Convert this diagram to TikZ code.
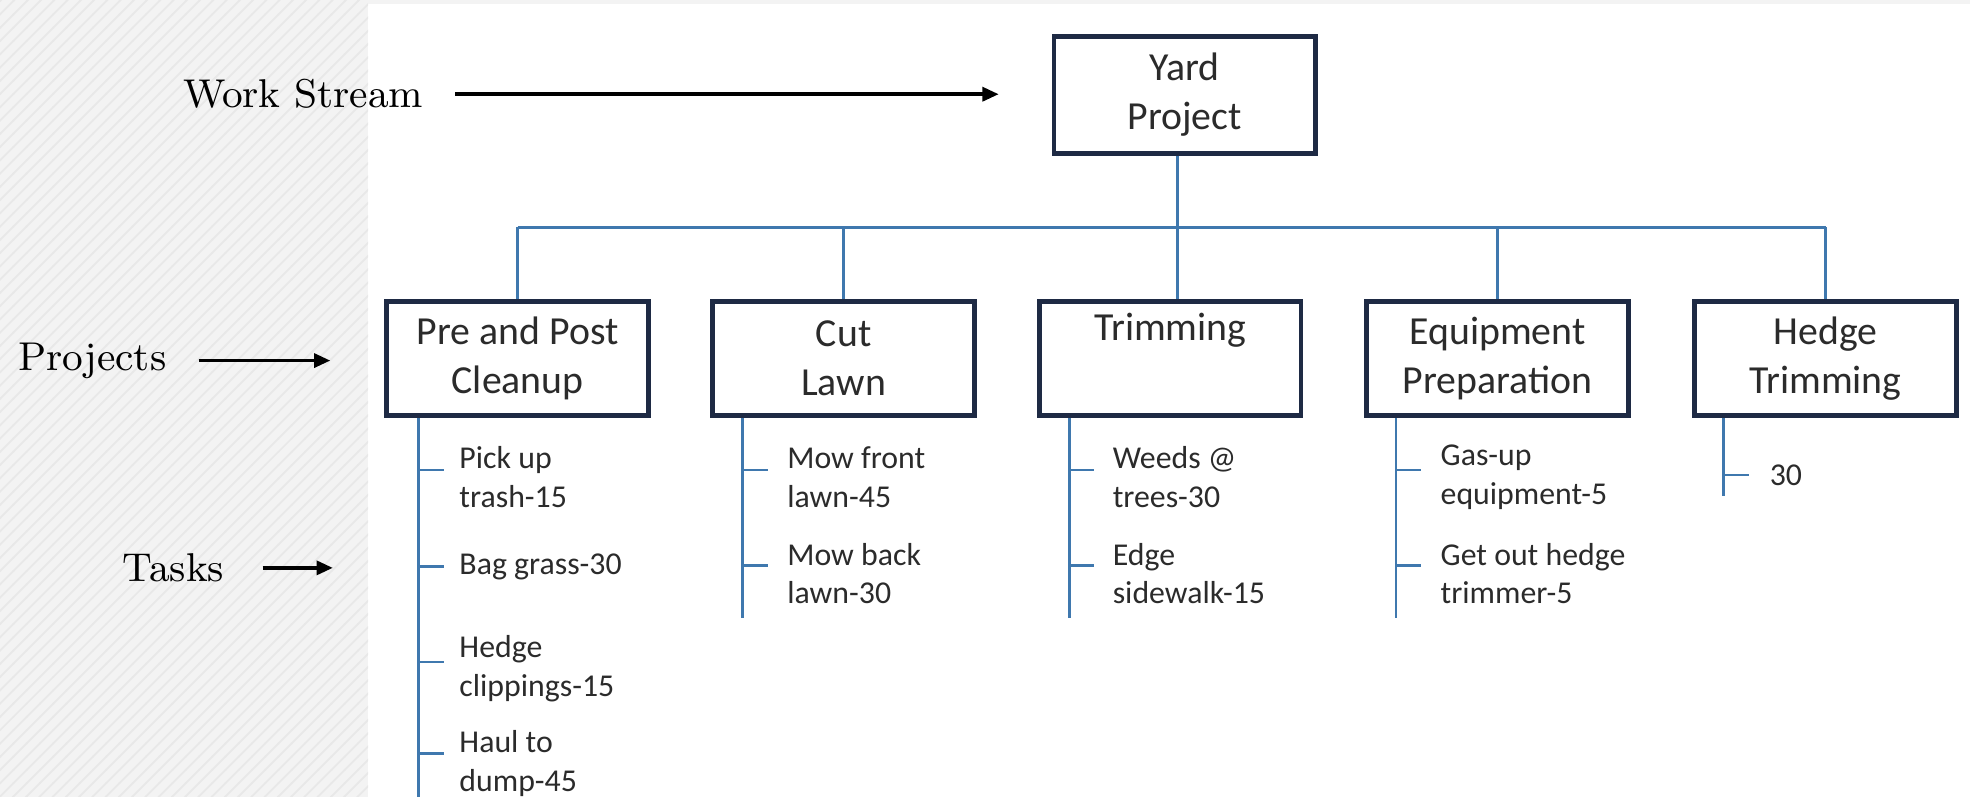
\documentclass[tikz,border=0pt]{standalone}
\usepackage{fontspec}
\newfontfamily\boxfont{Carlito}
\usetikzlibrary{arrows.meta,patterns}
\definecolor{navy}{HTML}{1E2A44}
\definecolor{conn}{HTML}{3F78AE}
\definecolor{txt}{HTML}{2B2B2B}
\definecolor{bgtex}{HTML}{F3F3F3}
\definecolor{hatch}{HTML}{E8E8E8}
\begin{document}
\begin{tikzpicture}[x=0.01cm,y=-0.01cm,
  wbs/.style={draw=navy,line width=1.1pt,fill=white,minimum width=2.08cm,minimum height=0.91cm,
    align=center,text=txt,font=\boxfont\fontsize{9}{11.1}\selectfont,inner sep=0pt},
  task/.style={align=left,text=txt,font=\boxfont\fontsize{7.2}{8.8}\selectfont,inner sep=0pt,anchor=west},
  lbl/.style={font=\fontsize{9.1}{11}\selectfont,inner sep=0pt,text=black},
  link/.style={draw=conn,line width=0.6pt},
  pointer/.style={draw=black,line width=0.85pt,-{Triangle[length=0.13cm,width=0.11cm]}}
]
\useasboundingbox (0,0) rectangle (1568,634);
\fill[bgtex] (0,0) rectangle (293,634);
\fill[pattern=north east lines,pattern color=hatch] (0,0) rectangle (293,634);
\fill[bgtex] (293,0) rectangle (1568,3.5);

% top node
\node[wbs,minimum height=0.93cm] (yard) at (943,75.5) {Yard\\Project};

% projects
\node[wbs] (p1) at (412,285.5) {Pre and Post\\Cleanup};
\node[wbs] (p2) at (671.5,285.5) {Cut\\Lawn};
\node[wbs] (p3) at (931.5,285.5) {Trimming\\\strut};
\node[wbs] (p4) at (1192,285.5) {Equipment\\Preparation};
\node[wbs] (p5) at (1453,285.5) {Hedge\\Trimming};

% bus
\coordinate (bus) at (937,181);
\draw[link] (yard.south -| bus) -- (bus);
\draw[link] (bus -| p1) -- (bus -| p5);
\foreach \p in {p1,p2,p4,p5} \draw[link] (bus -| \p) -- (\p.north);
\draw[link] (bus) -- (bus |- p3.north);

% task stems
\coordinate (s1) at (333,634);
\coordinate (s2) at (591,492);
\coordinate (s3) at (851,492);
\coordinate (s4) at (1111,492);
\coordinate (s5) at (1372,395);
\foreach \i in {1,...,5} \draw[link] (s\i |- p\i.south) -- (s\i);

% tasks box 1
\node[task] (t11) at (365,380) {Pick up\\trash-15};
\node[task] (t12) at (365,451) {Bag grass-30};
\node[task] (t13) at (365,532.5) {Hedge\\clippings-15};
\node[task] (t14) at (365,608) {Haul to\\dump-45};
\foreach \y in {374,451,527,600} \draw[link] (s1 |- 0,\y) -- ++(20,0);
% box 2
\node[task] (t21) at (626,380) {Mow front\\lawn-45};
\node[task] (t22) at (626,456.5) {Mow back\\lawn-30};
% box 3
\node[task] (t31) at (885,380) {Weeds @\\trees-30};
\node[task] (t32) at (885,456.5) {Edge\\sidewalk-15};
% box 4
\node[task] (t41) at (1146,380) {Gas-up\\equipment-5};
\node[task] (t42) at (1146,456.5) {Get out hedge\\trimmer-5};
\foreach \s in {s2,s3,s4} \foreach \y in {374,450} \draw[link] (\s |- 0,\y) -- ++(20,0);
% box 5
\node[task] (t51) at (1408,378) {30};
\draw[link] (s5 |- 0,378) -- ++(20,0);

% labels
\node[lbl,anchor=west] (ws) at (145,75) {Work Stream};
\node[lbl,anchor=west] (pj) at (14,287) {Projects};
\node[lbl,anchor=west] (tk) at (97,452) {Tasks};
\coordinate (tkend) at (265,452);
\draw[pointer,shorten <=0.25cm,shorten >=0.42cm] (ws.east) -- (ws.east -| yard.west);
\draw[pointer,shorten <=0.25cm,shorten >=0.43cm] (pj.east) -- (pj.east -| p1.west);
\draw[pointer,shorten <=0.3cm] (tk.east) -- (tkend);
\end{tikzpicture}
\end{document}
